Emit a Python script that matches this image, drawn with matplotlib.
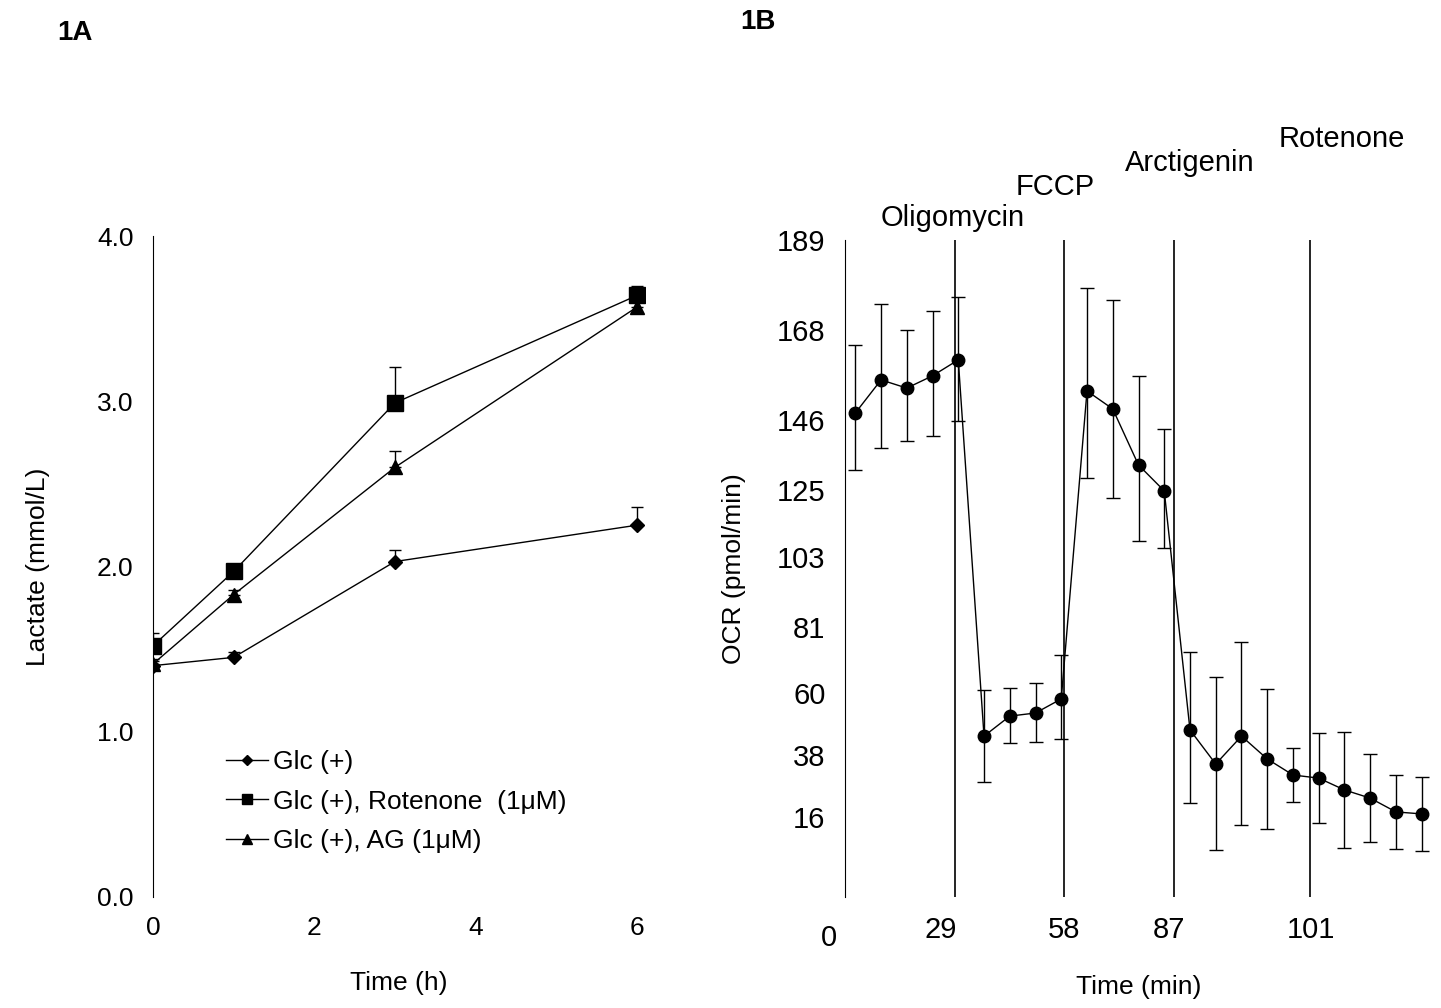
import numpy as np
import matplotlib.pyplot as plt

plt.rcParams['font.family'] = ['Liberation Sans', 'DejaVu Sans']

# ---- 1A data ----
time_h = [0, 1, 3, 6]
glc = [1.40, 1.45, 2.03, 2.25]
glc_err = [0.03, 0.03, 0.07, 0.11]
rot = [1.52, 1.97, 2.99, 3.64]
rot_err = [0.08, 0.03, 0.22, 0.06]
ag = [1.41, 1.83, 2.60, 3.57]
ag_err = [0.03, 0.03, 0.10, 0.04]

# ---- 1B data ----
ocr = [147.7, 155.8, 153.8, 156.8, 160.7, 44.7, 51.8, 52.9, 57.9, 153.1, 148.7,
       132.5, 124.7, 46.9, 34.8, 44.7, 36.6, 30.9, 29.8, 25.6, 22.7, 17.8, 17.1]
ocr_err = [16.6, 18.3, 14.2, 15.7, 14.9, 16.2, 9.7, 10.3, 14.1, 24.6, 26.4,
           24.3, 18.6, 26.1, 30.3, 31.5, 24.8, 9.6, 16.0, 20.6, 15.6, 13.1, 13.1]
ocr_ticks = [16, 38, 60, 81, 103, 125, 146, 168, 189]
tick_pos = [80, 142, 204, 270, 340, 407, 477, 567, 657]
time_labels = ['29', '58', '87', '101']
time_label_pos = [4.3, 9.1, 13.2, 18.7]
inject_pos = [4.88, 9.1, 13.36, 18.66]
injections = ['Oligomycin', 'FCCP', 'Arctigenin', 'Rotenone']

fig = plt.figure(figsize=(14.41, 10.08), dpi=100)
fs = 19

# ---------------- 1A ----------------
ax = fig.add_axes([153/1441, 111/1008, 492/1441, 661/1008])
z = [0] * 4
ax.errorbar(time_h, glc, yerr=[z, glc_err], color='black', marker='D', ms=7,
            lw=1, capsize=4, elinewidth=1, label='Glc (+)')
ax.errorbar(time_h, rot, yerr=[z, rot_err], color='black', marker='s', ms=11,
            lw=1, capsize=4, elinewidth=1, label='Glc (+), Rotenone  (1μM)')
ax.errorbar(time_h, ag, yerr=[z, ag_err], color='black', marker='^', ms=10,
            lw=1, capsize=4, elinewidth=1, label='Glc (+), AG (1μM)')
ax.set_xlim(0, 6.1)
ax.set_ylim(0, 4)
ax.set_xticks([0, 2, 4, 6])
ax.set_yticks([0, 1, 2, 3, 4])
ax.set_yticklabels(['0.0', '1.0', '2.0', '3.0', '4.0'])
for s in ['top', 'right', 'bottom']:
    ax.spines[s].set_visible(False)
ax.tick_params(length=0, labelsize=fs, pad=14)
ax.set_xlabel('Time (h)', fontsize=fs, labelpad=22)
ax.set_ylabel('Lactate (mmol/L)', fontsize=fs, labelpad=34)
handles, labels = ax.get_legend_handles_labels()
ax.legend([h[0] for h in handles], labels, loc='lower left', bbox_to_anchor=(0.1, 0.03),
          frameon=False, fontsize=fs, handlelength=1.6, handletextpad=0.2,
          labelspacing=0.6, markerscale=0.7)

# ---------------- 1B ----------------
bx = fig.add_axes([845/1441, 111/1008, 587/1441, 657/1008])
vals = [-12] + ocr_ticks
pos = [0] + tick_pos


def fwd(v):
    return np.interp(v, vals, pos, left=np.nan, right=np.nan)


def inv(p):
    return np.interp(p, pos, vals)


bx.set_yscale('function', functions=(fwd, inv))
idx = np.arange(1, len(ocr) + 1)
bx.errorbar(idx, ocr, yerr=ocr_err, color='black', marker='o', ms=9, lw=1,
            capsize=5, elinewidth=1)
for p in inject_pos:
    bx.axvline(p, color='black', lw=1.2)
bx.set_xlim(0.6, 23.4)
bx.set_ylim(-12, 189)
bx.set_yticks(ocr_ticks)
bx.set_yticklabels([str(t) for t in ocr_ticks])
bx.set_xticks(time_label_pos)
bx.set_xticklabels(time_labels)
for s in ['top', 'right', 'bottom']:
    bx.spines[s].set_visible(False)
bx.tick_params(length=0, labelsize=fs + 2, pad=14)
bx.set_xlabel('Time (min)', fontsize=fs, labelpad=22)
bx.set_ylabel('OCR (pmol/min)', fontsize=fs, labelpad=22)

fig.text(829/1441, 1 - 938/1008, '0', fontsize=fs + 2, ha='center', va='center')
for name, (x, y) in zip(injections, [(953, 218), (1055, 187), (1190, 163), (1342, 139)]):
    fig.text(x/1441, 1 - y/1008, name, fontsize=fs + 2, ha='center', va='center')

fig.text(75/1441, 1 - 33/1008, '1A', fontsize=fs + 1, weight='bold', ha='center', va='center')
fig.text(758/1441, 1 - 22/1008, '1B', fontsize=fs + 1, weight='bold', ha='center', va='center')

fig.savefig('out.png', dpi=100)
